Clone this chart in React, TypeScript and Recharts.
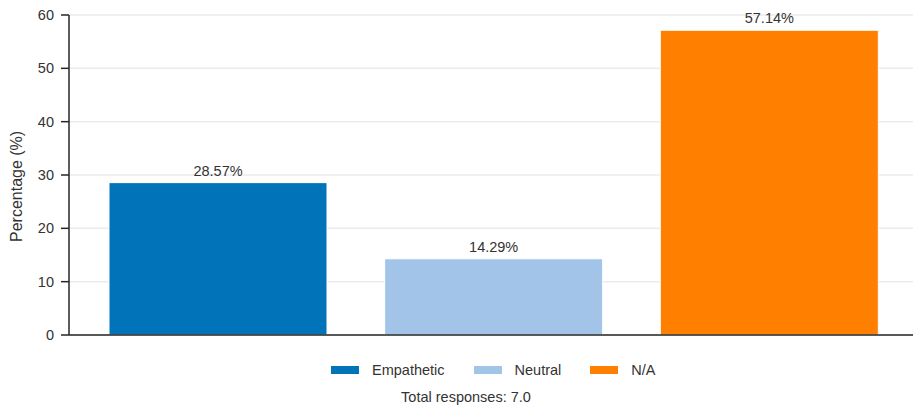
import { BarChart, Bar, XAxis, YAxis, CartesianGrid, LabelList, Cell } from "recharts";

const categories = ["Empathetic", "Neutral", "N/A"];
const percentages = [28.57, 14.29, 57.14];
const colors = ["#0173b9", "#a2c4e8", "#ff7f00"];
const yTicks = [0, 10, 20, 30, 40, 50, 60];
const totalResponses = "7.0";

const FONT = "'Liberation Sans', Arial, Helvetica, sans-serif";
const TEXT = "#333333";

const data = categories.map((name, i) => ({ name, value: percentages[i] }));

export default function App() {
  return (
    <div
      style={{
        position: "absolute",
        left: 0,
        top: 0,
        width: 913,
        height: 408,
        overflow: "hidden",
        background: "#fff",
        fontFamily: FONT,
      }}
    >
      <BarChart
        width={930}
        height={408}
        data={data}
        margin={{ top: 15, right: 11, left: 0, bottom: 72 }}
      >
        <CartesianGrid vertical={false} stroke="#ebebeb" strokeWidth={1.5} />
        <XAxis
          dataKey="name"
          height={1}
          tick={false}
          tickLine={false}
          axisLine={{ stroke: "#262626", strokeWidth: 1.5 }}
          padding={{ left: 11, right: 12 }}
        />
        <YAxis
          width={69}
          domain={[0, 60]}
          ticks={yTicks}
          tickSize={8}
          tickMargin={7}
          axisLine={{ stroke: "#262626", strokeWidth: 1.5 }}
          tickLine={{ stroke: "#262626", strokeWidth: 1.5 }}
          tick={{ fontSize: 14.5, fill: TEXT, fontFamily: FONT }}
          label={{
            value: "Percentage (%)",
            angle: -90,
            position: "insideLeft",
            offset: 16,
            dy: 67,
            style: { fontSize: 16, fill: TEXT, fontFamily: FONT },
          }}
        />
        <Bar dataKey="value" barSize={218} stroke="#ffffff" strokeWidth={1} isAnimationActive={false}>
          {data.map((d, i) => (
            <Cell key={d.name} fill={colors[i]} />
          ))}
          <LabelList
            dataKey="value"
            position="top"
            offset={7}
            formatter={(v: number) => `${v.toFixed(2)}%`}
            style={{ fontSize: 14.5, fill: TEXT, fontFamily: FONT }}
          />
        </Bar>
      </BarChart>
      <div
        style={{
          position: "absolute",
          left: 331,
          top: 360,
          display: "flex",
          alignItems: "center",
          fontSize: 14.5,
          color: TEXT,
          lineHeight: "20px",
        }}
      >
        {categories.map((c, i) => (
          <div key={c} style={{ display: "flex", alignItems: "center", marginRight: 29 }}>
            <span style={{ width: 28, height: 8, background: colors[i], display: "inline-block", marginRight: 13 }} />
            <span>{c}</span>
          </div>
        ))}
      </div>
      <div
        style={{
          position: "absolute",
          left: 0,
          width: 932,
          top: 387,
          textAlign: "center",
          fontSize: 14.5,
          color: TEXT,
          lineHeight: "20px",
        }}
      >
        Total responses: {totalResponses}
      </div>
    </div>
  );
}
